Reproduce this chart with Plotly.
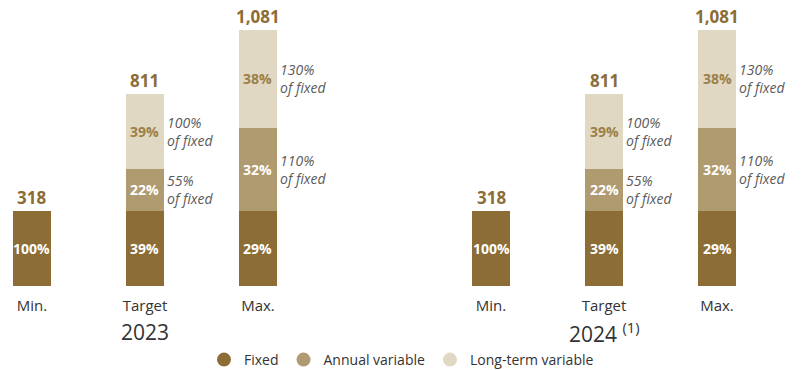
import plotly.graph_objects as go

# Pay levels shown in each year
levels = ["Min.", "Target", "Max."]
years = ["2023", "2024 <sup>(1)</sup>"]

# Compensation components (thousands) per level, one array per year
fixed_2023 = [318, 318, 318]
annual_2023 = [0, 175, 350]
long_term_2023 = [0, 318, 413]

fixed_2024 = [318, 318, 318]
annual_2024 = [0, 175, 350]
long_term_2024 = [0, 318, 413]

# Colours
C_FIXED = "#8B6D35"
C_ANNUAL = "#B09A70"
C_LT = "#E1D8C4"
C_TOTAL = "#8B6D35"
C_LT_TXT = "#9C7F45"
C_NOTE = "#5a5a5a"
C_AXIS = "#333333"
FONT = "Open Sans"

# Horizontal layout of the bars
group_offsets = [0.0, 4.062]
bar_width = 0.336

fixed = fixed_2023 + fixed_2024
annual = annual_2023 + annual_2024
long_term = long_term_2023 + long_term_2024
xpos = [g + i for g in group_offsets for i in range(len(levels))]

fig = go.Figure()
for name, vals, col in [("Fixed", fixed, C_FIXED),
                        ("Annual variable", annual, C_ANNUAL),
                        ("Long-term variable", long_term, C_LT)]:
    fig.add_trace(go.Bar(x=xpos, y=vals, name=name, marker=dict(color=col, line_width=0),
                         width=bar_width, showlegend=False, hoverinfo="skip"))
    # circle swatch for the legend
    fig.add_trace(go.Scatter(x=[None], y=[None], mode="markers", name=name,
                             marker=dict(symbol="circle", size=14, color=col)))

ann = []
for x, f, a, lt in zip(xpos, fixed, annual, long_term):
    total = f + a + lt
    ann.append(dict(x=x, y=total, text=f"<b>{total:,}</b>", showarrow=False,
                    yanchor="bottom", yshift=0,
                    font=dict(size=17, color=C_TOTAL, family=FONT)))
    base = 0
    for k, (v, col) in enumerate([(f, "white"), (a, "white"), (lt, C_LT_TXT)]):
        if v > 0:
            mid = base + v / 2
            ann.append(dict(x=x, y=mid, text=f"<b>{round(v / total * 100)}%</b>",
                            showarrow=False, font=dict(size=14, color=col, family=FONT)))
            if k > 0:
                # variable component expressed relative to the fixed part
                ann.append(dict(x=x + bar_width / 2, y=mid,
                                text=f"<i>{round(v / f * 100)}%<br>of fixed</i>",
                                xanchor="left", yanchor="middle", xshift=1, showarrow=False,
                                align="left",
                                font=dict(size=14, color=C_NOTE, family=FONT)))
        base += v

for g, yr in zip(group_offsets, years):
    ann.append(dict(x=g + 1, y=-0.161, yref="paper", text=yr, showarrow=False,
                    yanchor="middle", font=dict(size=21, color=C_AXIS, family=FONT)))

fig.update_layout(
    width=803, height=370,
    margin=dict(l=0, r=0, t=0, b=84, autoexpand=False),
    plot_bgcolor="white", paper_bgcolor="white",
    barmode="stack", bargap=0,
    font=dict(family=FONT, color=C_AXIS),
    xaxis=dict(range=[-0.283, 6.823], tickvals=xpos, ticktext=levels * len(years),
               showgrid=False, zeroline=False, showline=False, ticks="",
               ticklabelstandoff=9, automargin=False,
               tickfont=dict(size=15, color=C_AXIS, family=FONT)),
    yaxis=dict(range=[0, 1206], visible=False, showgrid=False, automargin=False),
    legend=dict(orientation="h", x=0.5, xanchor="center",
                yref="container", y=0.027, yanchor="middle",
                traceorder="normal",
                font=dict(size=14, color=C_AXIS, family=FONT),
                itemwidth=30, tracegroupgap=0, bgcolor="rgba(0,0,0,0)"),
    annotations=ann,
)

fig.write_html("out.html")
